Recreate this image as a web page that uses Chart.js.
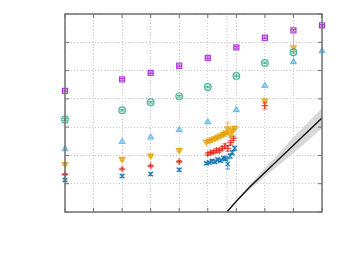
<!DOCTYPE html>
<html><head><meta charset="utf-8">
<style>html,body{margin:0;padding:0;background:#fff}#w{width:350px;height:261px}</style>
<script src="https://cdn.jsdelivr.net/npm/chart.js@4/dist/chart.umd.min.js"></script>
</head><body>
<div id="w"><canvas id="c"></canvas></div>
<script>
// ---- data ----
const xTicks = [0,1,2,3,4,5,6,7,8,9];
const yTicks = [0,1,2,3,4,5,6,7];

const purpleX = [0,2,3,4,5,6,7,8,9];
const purpleY = [4.28,4.69,4.92,5.17,5.45,5.82,6.16,6.42,6.60];

const greenX = [0,2,3,4,5,6,7,8];
const greenY = [3.27,3.60,3.88,4.09,4.42,4.81,5.27,5.65];

const skyX = [0,2,3,4,5,6,7,8,9];
const skyY = [2.23,2.48,2.64,2.90,3.18,3.61,4.46,5.30,5.69];

const orangeX = [0,2,3,4,4.95,5.05,5.15,5.25,5.35,5.45,5.55,5.62,5.70,5.78,5.86,5.94,7,8];
const orangeY = [1.69,1.87,1.99,2.18,2.48,2.52,2.56,2.60,2.65,2.70,2.75,2.80,2.95,2.75,2.88,2.97,3.92,5.82];
const orangeE = [0.04,0.04,0.04,0.05,0.04,0.04,0.04,0.05,0.05,0.05,0.06,0.06,0.20,0.12,0.06,0.06,0.08,0.57];

const redX = [0,2,3,4,5.0,5.1,5.2,5.3,5.4,5.5,5.6,5.7,5.8,5.9,7];
const redY = [1.33,1.52,1.63,1.78,2.05,2.10,2.12,2.18,2.17,2.25,2.33,2.25,2.45,2.60,3.76];
const redE = [0.03,0.03,0.03,0.04,0.05,0.05,0.05,0.06,0.06,0.06,0.08,0.10,0.08,0.08,0.12];

const blueX = [0,2,3,4,4.95,5.05,5.15,5.25,5.35,5.45,5.55,5.62,5.70,5.78,5.86,5.94];
const blueY = [1.13,1.27,1.34,1.49,1.72,1.75,1.80,1.78,1.85,1.82,1.90,1.88,1.70,1.98,2.10,2.25];
const blueE = [0.04,0.05,0.05,0.05,0.05,0.05,0.06,0.06,0.06,0.06,0.07,0.07,0.18,0.08,0.08,0.08];

const fitX = [5.67,6.0,6.47,7,8,9];
const fitY = [0,0.38,0.88,1.40,2.36,3.32];
const fitLo = [0,0.35,0.80,1.25,2.08,2.96];
const fitHi = [0,0.41,0.96,1.55,2.64,3.68];

const threshX = [5.67,5.67];
const threshY = [0,7];

// ---- build ----
const pts = (xs, ys) => xs.map((x,i)=>({x, y: ys[i]}));

const errPlugin = {
  id:'err',
  afterDatasetsDraw(chart){
    const ctx = chart.ctx, xs = chart.scales.x, ys = chart.scales.y;
    chart.data.datasets.forEach((ds)=>{
      if(!ds.err) return;
      ctx.save();
      ctx.strokeStyle = ds.errColor; ctx.lineWidth = 1;
      ds.data.forEach((p,i)=>{
        const e = ds.err[i]; if(!e) return;
        const px = xs.getPixelForValue(p.x);
        const y1 = ys.getPixelForValue(p.y - e), y2 = ys.getPixelForValue(p.y + e);
        ctx.beginPath();
        ctx.moveTo(px, y1); ctx.lineTo(px, y2);
        ctx.moveTo(px-2.5, y1); ctx.lineTo(px+2.5, y1);
        ctx.moveTo(px-2.5, y2); ctx.lineTo(px+2.5, y2);
        ctx.stroke();
      });
      ctx.restore();
    });
  }
};

const framePlugin = {
  id:'frame',
  afterDraw(chart){
    const ctx = chart.ctx, a = chart.chartArea, xs = chart.scales.x, ys = chart.scales.y;
    ctx.save();
    ctx.strokeStyle = '#707070'; ctx.lineWidth = 1.5;
    ctx.strokeRect(a.left, a.top, a.right-a.left, a.bottom-a.top);
    ctx.lineWidth = 1;
    ctx.beginPath();
    xTicks.forEach(v=>{
      const px = xs.getPixelForValue(v);
      ctx.moveTo(px, a.bottom); ctx.lineTo(px, a.bottom-4);
      ctx.moveTo(px, a.top); ctx.lineTo(px, a.top+4);
    });
    yTicks.forEach(v=>{
      const py = ys.getPixelForValue(v);
      ctx.moveTo(a.left, py); ctx.lineTo(a.left+4, py);
      ctx.moveTo(a.right, py); ctx.lineTo(a.right-4, py);
    });
    ctx.stroke();
    ctx.restore();
  }
};

const mk = (xs, ys, color, style, opts={}) => Object.assign({
  data: pts(xs, ys), showLine:false, pointStyle: style, clip: false,
  borderColor: color, backgroundColor: 'rgba(0,0,0,0)',
  pointRadius: 3.3, pointBorderWidth: 1.2, order: 1
}, opts);

new Chart(document.getElementById('c'), {
  type:'scatter',
  data:{ datasets:[
    mk(purpleX, purpleY, 'rgba(148,0,211,0.75)', 'rect', {pointRadius:3.6, err: purpleX.map(()=>0.03), errColor:'rgba(148,0,211,0.75)'}),
    mk(greenX, greenY, 'rgba(0,158,115,0.75)', 'circle', {err: greenX.map(()=>0.03), errColor:'rgba(0,158,115,0.75)'}),
    mk(skyX, skyY, 'rgba(86,180,233,0.8)', 'triangle', {backgroundColor:'rgba(86,180,233,0.55)'}),
    mk(orangeX, orangeY, 'rgba(230,159,0,0.8)', 'triangle', {rotation:180, backgroundColor:'rgba(230,159,0,0.45)', err: orangeE, errColor:'rgba(230,159,0,0.7)'}),
    mk(redX, redY, 'rgba(229,30,16,0.8)', 'cross', {pointRadius:3.3, err: redE, errColor:'rgba(229,30,16,0.7)'}),
    mk(blueX, blueY, 'rgba(0,114,178,0.8)', 'crossRot', {pointRadius:3.3, err: blueE, errColor:'rgba(0,114,178,0.7)'}),
    { data: pts(fitX, fitY), showLine:true, pointRadius:0, borderColor:'#111', borderWidth:1.4, fill:false, order:2 },
    { data: pts(fitX, fitHi), showLine:true, pointRadius:0, borderWidth:0, borderColor:'rgba(0,0,0,0)', backgroundColor:'rgba(200,200,200,0.7)', fill:'+1', order:3 },
    { data: pts(fitX, fitLo), showLine:true, pointRadius:0, borderWidth:0, borderColor:'rgba(0,0,0,0)', fill:false, order:3 },
    { data: pts(threshX, threshY), showLine:true, pointRadius:0, borderColor:'#c0c0c0', borderWidth:1, borderDash:[1,2], order:4 }
  ]},
  options:{
    responsive:true, maintainAspectRatio:false, animation:false,
    layout:{ padding:{ left:65, right:28, top:14, bottom:49 } },
    plugins:{ legend:{display:false}, tooltip:{enabled:false} },
    scales:{
      x:{ type:'linear', min:0, max:9,
          ticks:{ display:false, stepSize:1 },
          grid:{ color:'#c8c8c8', lineWidth:1, drawTicks:false, tickLength:0 },
          border:{ display:false, dash:[1,2] } },
      y:{ type:'linear', min:0, max:7,
          ticks:{ display:false, stepSize:1 },
          grid:{ color:'#c8c8c8', lineWidth:1, drawTicks:false, tickLength:0 },
          border:{ display:false, dash:[1,2] } }
    }
  },
  plugins:[errPlugin, framePlugin]
});
</script>
</body></html>
